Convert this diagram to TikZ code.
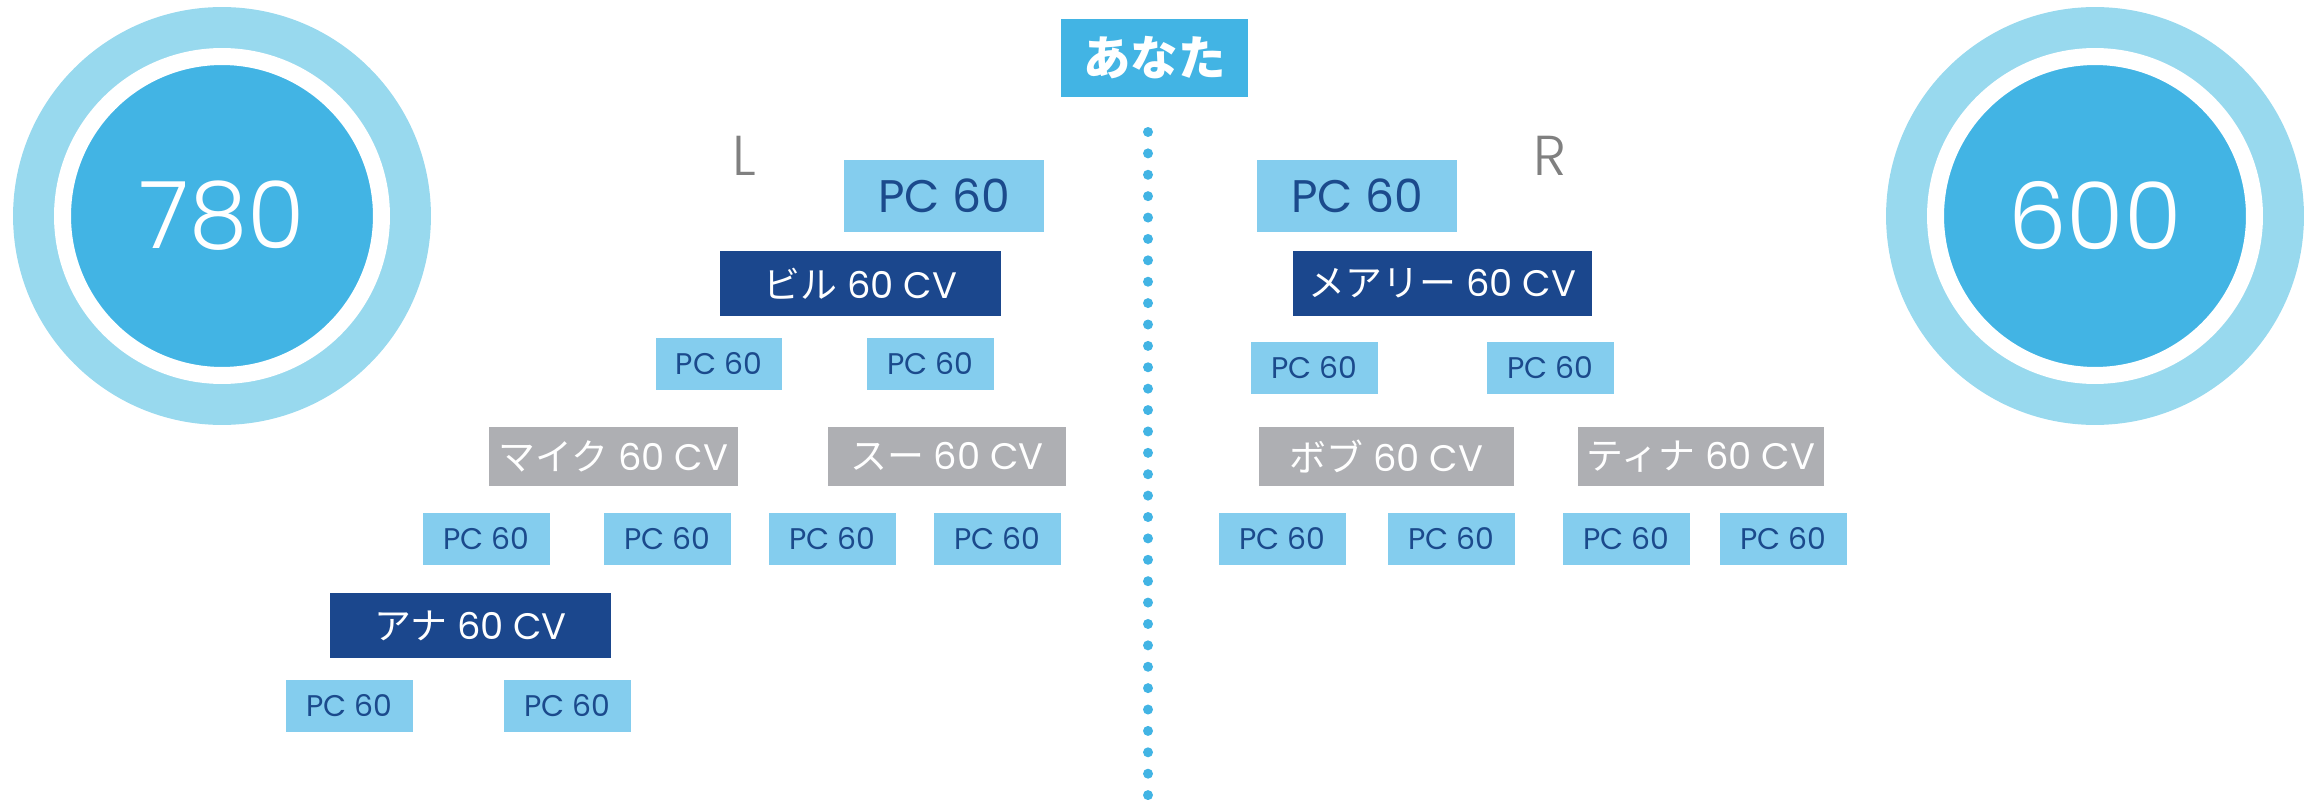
\documentclass[tikz,border=0pt]{standalone}
\usepackage{fontspec}
\setmainfont{Poppins}
\newfontfamily\jp{Noto Sans CJK JP}
\newfontfamily\thinfont{Poppins}[UprightFont=* Light]
\usepackage{tikz}

\definecolor{ringblue}{HTML}{98D9EE}
\definecolor{diskblue}{HTML}{42B4E4}
\definecolor{pcblue}{HTML}{84CDEE}
\definecolor{pctext}{HTML}{1B4A8C}
\definecolor{navybox}{HTML}{1B478D}
\definecolor{graybox}{HTML}{AEAFB3}
\definecolor{labelgray}{HTML}{808080}

\tikzset{
  pcbox/.style={fill=pcblue, text=pctext, inner sep=0pt,
                minimum width=2.54cm, minimum height=1.04cm,
                font=\fontsize{17}{20}\selectfont},
  pcbig/.style={pcbox, minimum width=4cm, minimum height=1.44cm,
                font=\fontsize{26}{30}\selectfont},
  cvdark/.style={fill=navybox, text=white, inner sep=0pt,
                 minimum height=1.3cm, font=\fontsize{21}{24}\selectfont},
  cvgray/.style={cvdark, fill=graybox, minimum height=1.18cm},
  sidelabel/.style={text=labelgray, anchor=base, inner sep=0pt,
                    font=\thinfont\fontsize{32}{36}\selectfont},
  scorering/.style={circle, fill=ringblue, inner sep=0pt, minimum size=8.36cm},
  scoredisk/.style={circle, fill=diskblue, draw=white, line width=0.34cm,
                    inner sep=0pt, minimum size=6.38cm, text=white,
                    font=\thinfont\fontsize{53}{58}\selectfont},
}

\begin{document}
\begin{tikzpicture}[x=0.02cm, y=-0.02cm]
\useasboundingbox (0,0) rectangle (2323,800);

\node[scorering] (lring) at (222,216) {};
\node[scoredisk] (lscore) at (222,216) {780};
\node[scorering] (rring) at (2095,216) {};
\node[scoredisk] (rscore) at (2095,216) {600};

\node[fill=diskblue, text=white, inner sep=0pt, minimum width=3.74cm,
      minimum height=1.56cm, font=\jp\bfseries\fontsize{27}{30}\selectfont]
      (you) at (1154.5,58) {あなた};
\foreach \i in {0,...,31}
  \fill[diskblue] (1148,132+21.39*\i) circle (5);

\node[sidelabel] (lside) at (744,176) {L};
\node[sidelabel] (rside) at (1550,176) {R};

\node[pcbig] (lpc) at (944,196) {PC 60};
\node[pcbig] (rpc) at (1357,196) {PC 60};

\node[cvdark, minimum width=5.62cm] (bill) at (860.5,283.5) {{\jp ビル} 60 CV};
\node[cvdark, minimum width=5.98cm] (mary) at (1442.5,283.5) {{\jp メアリー} 60 CV};

\node[pcbox] (billa) at (719,364) {PC 60};
\node[pcbox] (billb) at (930.5,364) {PC 60};
\node[pcbox] (marya) at (1314.5,368) {PC 60};
\node[pcbox] (maryb) at (1550.5,368) {PC 60};

\node[cvgray, minimum width=4.98cm] (mike) at (613.5,456.5) {{\jp マイク} 60 CV};
\node[cvgray, minimum width=4.76cm] (sue) at (947,456.5) {{\jp スー} 60 CV};
\node[cvgray, minimum width=5.1cm] (bob) at (1386.5,456.5) {{\jp ボブ} 60 CV};
\node[cvgray, minimum width=4.92cm] (tina) at (1701,456.5) {{\jp ティナ} 60 CV};

\node[pcbox] (mikea) at (486.5,539) {PC 60};
\node[pcbox] (mikeb) at (667.5,539) {PC 60};
\node[pcbox] (suea) at (832.5,539) {PC 60};
\node[pcbox] (sueb) at (997.5,539) {PC 60};
\node[pcbox] (boba) at (1282.5,539) {PC 60};
\node[pcbox] (bobb) at (1451.5,539) {PC 60};
\node[pcbox] (tinaa) at (1626.5,539) {PC 60};
\node[pcbox] (tinab) at (1783.5,539) {PC 60};

\node[cvdark, minimum width=5.62cm] (ana) at (470.5,625.5) {{\jp アナ} 60 CV};
\node[pcbox] (anaa) at (349.5,706) {PC 60};
\node[pcbox] (anab) at (567.5,706) {PC 60};
\end{tikzpicture}
\end{document}
